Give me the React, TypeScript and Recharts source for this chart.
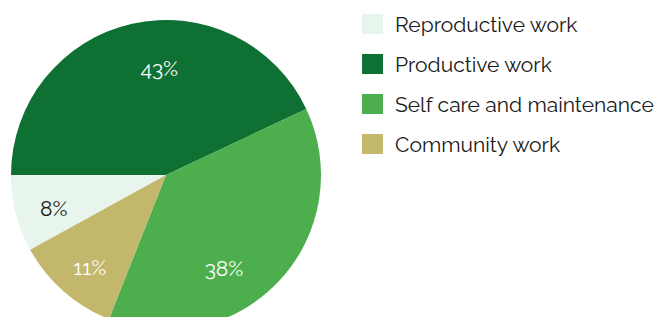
import { PieChart, Pie, Cell, Legend } from 'recharts';

const CATEGORIES = ['Reproductive work', 'Productive work', 'Self care and maintenance', 'Community work'];
const SHARES = [8, 43, 38, 11];
const COLORS = ['#e8f5ec', '#0e7033', '#4cae4c', '#c2b76b'];
const LABEL_COLORS = ['#1a1a1a', '#ffffff', '#ffffff', '#ffffff'];
// small nudges so labels sit where the original put them
const LABEL_SHIFT = [
  { angle: 2, r: 117 },
  { angle: -9, r: 107 },
  { angle: -15, r: 110 },
  { angle: 2, r: 120 },
];

const data = CATEGORIES.map((name, i) => ({ name, value: SHARES[i] }));
const FONT = 'Raleway, "Open Sans", Lato, sans-serif';
const RAD = Math.PI / 180;

// eslint-disable-next-line @typescript-eslint/no-explicit-any
const renderLabel = (props: any) => {
  const { cx, cy, midAngle, index, value } = props;
  const shift = LABEL_SHIFT[index];
  const a = (midAngle + shift.angle) * RAD;
  const x = cx + shift.r * Math.cos(a);
  const y = cy - shift.r * Math.sin(a);
  return (
    <text x={x} y={y} fill={LABEL_COLORS[index]} textAnchor="middle" dominantBaseline="central" fontSize={21} fontFamily={FONT}>
      {`${value}%`}
    </text>
  );
};

const renderLegend = () => (
  <div style={{ fontFamily: FONT }}>
    {CATEGORIES.map((name, i) => (
      <div key={name} style={{ display: 'flex', alignItems: 'center', height: 20, marginBottom: 20 }}>
        <span style={{ width: 21, height: 20, background: COLORS[i], display: 'inline-block', marginRight: 12, flexShrink: 0 }} />
        <span style={{ fontSize: 21, color: '#1a1a1a', whiteSpace: 'nowrap' }}>{name}</span>
      </div>
    ))}
  </div>
);

export default function App() {
  return (
    <div style={{ margin: -8, width: 663, height: 325, background: '#fff' }}>
      <PieChart width={663} height={325} margin={{ top: 0, right: 0, bottom: 0, left: 0 }}>
        <Pie
          data={data}
          dataKey="value"
          nameKey="name"
          cx={166}
          cy={175}
          outerRadius={155}
          startAngle={208.8}
          endAngle={-151.2}
          stroke="none"
          label={renderLabel}
          labelLine={false}
          isAnimationActive={false}
        >
          {data.map((_entry, index) => <Cell key={`cell-${index}`} fill={COLORS[index]} />)}
        </Pie>
        <Legend content={renderLegend} layout="vertical" verticalAlign="top" align="right" wrapperStyle={{ left: 362, top: 14, width: 300 }} />
      </PieChart>
    </div>
  );
}
